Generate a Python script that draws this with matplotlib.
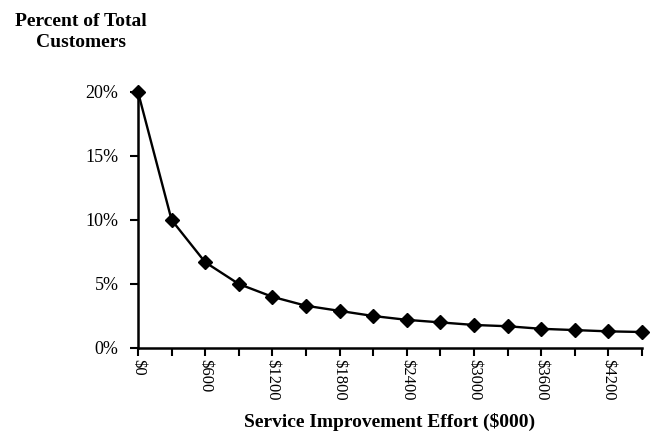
import matplotlib
matplotlib.use("Agg")
import matplotlib.pyplot as plt

# effort in $000, share of customers in %
effort = [0, 300, 600, 900, 1200, 1500, 1800, 2100, 2400, 2700,
          3000, 3300, 3600, 3900, 4200, 4500]
percent = [20, 10, 6.7, 5, 4, 3.3, 2.9, 2.5, 2.2, 2.0,
           1.8, 1.7, 1.5, 1.4, 1.3, 1.25]

tick_pos = list(range(0, 4501, 300))
label_pos = [0, 600, 1200, 1800, 2400, 3000, 3600, 4200]
label_txt = ["$" + str(v) for v in label_pos]

plt.rcParams['font.family'] = ['Liberation Serif', 'DejaVu Serif']

fig = plt.figure(figsize=(6.52, 4.32), dpi=100)
ax = fig.add_axes([138 / 652, 1 - 348 / 432, 504 / 652, 256 / 432])

ax.plot(effort, percent, color="black", linewidth=1.7,
        marker="D", markersize=7, clip_on=False, zorder=3)

ax.set_xlim(0, 4500)
ax.set_ylim(0, 20)

ax.set_xticks(tick_pos, minor=True)
ax.set_xticks(label_pos)
ax.set_xticklabels(label_txt, rotation=270, fontsize=12)
ax.set_yticks([0, 5, 10, 15, 20])
ax.set_yticklabels(["0%", "5%", "10%", "15%", "20%"], fontsize=13)

ax.tick_params(axis="both", which="both", direction="out", length=6,
               width=1.5, color="black")
ax.tick_params(axis="x", pad=2)
ax.tick_params(axis="y", pad=8)

for s in ["top", "right"]:
    ax.spines[s].set_visible(False)
for s in ["left", "bottom"]:
    ax.spines[s].set_linewidth(1.8)

fig.text(81 / 652, 1 - 32 / 432, "Percent of Total\nCustomers",
         ha="center", va="center", fontsize=14, fontweight="bold",
         linespacing=1.25)
fig.text(390 / 652, 1 - 422 / 432, "Service Improvement Effort ($000)",
         ha="center", va="center", fontsize=14, fontweight="bold")

fig.savefig("out.png", dpi=100)
